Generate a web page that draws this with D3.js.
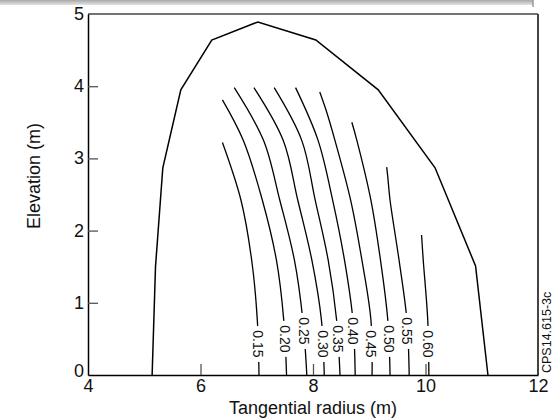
<!DOCTYPE html>
<html lang="en">
<head>
<meta charset="UTF-8">
<title>Elevation vs tangential radius</title>
<script src="https://d3js.org/d3.v7.min.js"></script>
<style>
    body { margin: 0; background: #fff; font-family: Arial, 'Liberation Sans', sans-serif; }
    svg text { font-family: Arial, 'Liberation Sans', sans-serif; fill: #111; }
    .contour { fill: none; stroke: #000; stroke-width: 1.3; }
    .envelope { fill: none; stroke: #000; stroke-width: 1.5; }
</style>
</head>
<body>
<svg id="chart" width="552" height="419"></svg>
<script>
    // outer boundary (x = tangential radius, y = elevation)
    const envelopeX = [5.14, 5.20, 5.33, 5.65, 6.20, 7.02, 8.05, 9.16, 10.17, 10.89, 11.11];
    const envelopeY = [0, 1.50, 2.87, 3.95, 4.64, 4.89, 4.64, 3.95, 2.87, 1.51, 0];

    // contour levels and their traced points
    const levels = ["0.15", "0.20", "0.25", "0.30", "0.35", "0.40", "0.45", "0.50", "0.55", "0.60"];
    const contourX = [
        [6.39, 6.72, 6.91, 7.01, 7.04],
        [6.39, 6.76, 7.10, 7.35, 7.48, 7.53],
        [6.60, 7.12, 7.41, 7.67, 7.82, 7.89],
        [6.95, 7.47, 7.73, 7.98, 8.15, 8.20],
        [7.31, 7.80, 8.04, 8.27, 8.42, 8.48],
        [7.69, 8.09, 8.35, 8.56, 8.71, 8.75],
        [8.12, 8.24, 8.39, 8.67, 8.87, 9.03, 9.05],
        [8.69, 8.78, 9.03, 9.20, 9.33, 9.37],
        [9.31, 9.33, 9.37, 9.53, 9.67, 9.71],
        [9.93, 9.96, 10.04, 10.06]
    ];
    const contourY = [
        [3.22, 2.42, 1.59, 0.76, 0],
        [3.81, 3.25, 2.42, 1.59, 0.76, 0],
        [3.98, 3.25, 2.42, 1.59, 0.76, 0],
        [3.98, 3.25, 2.42, 1.59, 0.76, 0],
        [3.98, 3.25, 2.42, 1.59, 0.76, 0],
        [3.98, 3.25, 2.42, 1.59, 0.76, 0],
        [3.92, 3.65, 3.25, 2.42, 1.59, 0.76, 0],
        [3.50, 3.25, 2.42, 1.59, 0.76, 0],
        [2.88, 2.74, 2.42, 1.59, 0.76, 0],
        [1.94, 1.59, 0.76, 0]
    ];
    // elevation at which each label sits on its line
    const labelY = [0.43, 0.50, 0.61, 0.43, 0.50, 0.61, 0.43, 0.50, 0.61, 0.43];

    const xTicks = [4, 6, 8, 10, 12];
    const yTicks = [0, 1, 2, 3, 4, 5];

    const svg = d3.select("#chart");
    const m = { left: 88, right: 538, top: 14, bottom: 375 };

    const x = d3.scaleLinear().domain([4, 12]).range([m.left, m.right]);
    const y = d3.scaleLinear().domain([0, 5]).range([m.bottom, m.top]);

    // grey strip along the top edge
    const grad = svg.append("defs").append("linearGradient")
        .attr("id", "strip").attr("x1", 0).attr("y1", 0).attr("x2", 0).attr("y2", 1);
    grad.append("stop").attr("offset", "0%").attr("stop-color", "#a8a8a8");
    grad.append("stop").attr("offset", "100%").attr("stop-color", "#e4e4e4");
    svg.append("rect").attr("x", 0).attr("y", 0).attr("width", 533).attr("height", 5).attr("fill", "url(#strip)");
    svg.append("line").attr("x1", 533).attr("x2", 533).attr("y1", 0).attr("y2", 7)
        .attr("stroke", "#999").attr("stroke-width", 1.5);

    // frame: top and right grey, left and bottom black
    svg.append("line").attr("x1", m.left).attr("x2", m.right).attr("y1", m.top).attr("y2", m.top)
        .attr("stroke", "#444").attr("stroke-width", 1.3);
    svg.append("line").attr("x1", m.right).attr("x2", m.right).attr("y1", m.top).attr("y2", m.bottom)
        .attr("stroke", "#444").attr("stroke-width", 2);

    const xAxis = svg.append("g").attr("transform", `translate(0,${m.bottom})`)
        .call(d3.axisBottom(x).tickValues(xTicks).tickFormat(d3.format("d"))
            .tickSizeInner(-11).tickSizeOuter(0).tickPadding(4));
    const yAxis = svg.append("g").attr("transform", `translate(${m.left},0)`)
        .call(d3.axisLeft(y).tickValues(yTicks).tickFormat(d3.format("d"))
            .tickSizeInner(-10).tickSizeOuter(0).tickPadding(4));
    [xAxis, yAxis].forEach(a => {
        a.select(".domain").attr("stroke", "#000").attr("stroke-width", 1.5);
        a.selectAll(".tick line").attr("stroke", "#555").attr("stroke-width", 1.3);
        a.selectAll(".tick text").attr("font-size", 18).attr("fill", "#111");
    });
    xAxis.selectAll(".tick").filter(d => d === 4 || d === 12).select("line").remove();
    yAxis.selectAll(".tick").filter(d => d === 0 || d === 5).select("line").remove();
    yAxis.selectAll(".tick text").attr("dy", "0.3em");
    yAxis.selectAll(".tick").filter(d => d === 0).select("text").attr("dy", "0.08em");

    // envelope
    svg.append("path").attr("class", "envelope")
        .attr("d", d3.line().x(d => x(d[0])).y(d => y(d[1]))(envelopeX.map((v, i) => [v, envelopeY[i]])));

    // contour lines with rotated labels
    const line = d3.line().x(d => x(d[0])).y(d => y(d[1])).curve(d3.curveCatmullRom.alpha(0.5));
    levels.forEach((lv, i) => {
        const pts = contourX[i].map((v, j) => [v, contourY[i][j]]);
        svg.append("path").attr("class", "contour").attr("d", line(pts));

        // x on the line at label height
        const xs = contourX[i], ys = contourY[i];
        let lx = xs[xs.length - 1];
        for (let j = 0; j < ys.length - 1; j++) {
            if (labelY[i] <= ys[j] && labelY[i] >= ys[j + 1]) {
                const t = (labelY[i] - ys[j]) / (ys[j + 1] - ys[j]);
                lx = xs[j] + t * (xs[j + 1] - xs[j]);
            }
        }
        const g = svg.append("g").attr("transform", `translate(${x(lx)},${y(labelY[i])}) rotate(90)`);
        g.append("rect").attr("x", -18).attr("y", -7).attr("width", 36).attr("height", 14).attr("fill", "#fff");
        g.append("text").attr("text-anchor", "middle").attr("dy", "0.36em")
            .attr("font-size", 14).text(lv);
    });

    // axis titles
    svg.append("text").attr("x", 313).attr("y", 414).attr("text-anchor", "middle")
        .attr("font-size", 18).text("Tangential radius (m)");
    svg.append("text").attr("transform", "translate(39.5,176) rotate(-90)").attr("text-anchor", "middle")
        .attr("font-size", 18).text("Elevation (m)");

    // figure id on the right edge
    svg.append("text").attr("transform", "translate(550.5,373) rotate(-90)")
        .attr("font-size", 12.5).text("CPS14.615-3c");
</script>
</body>
</html>
